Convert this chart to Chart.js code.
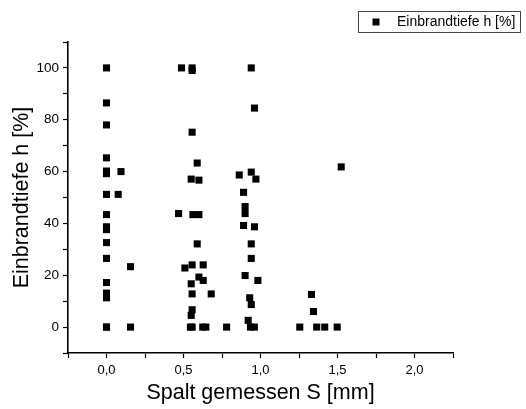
<!DOCTYPE html>
<html>
<head>
<meta charset="utf-8">
<script src="https://cdn.jsdelivr.net/npm/chart.js"></script>
<style>
  body { margin: 0; background: #fff; }
  canvas { display: block; }
</style>
</head>
<body>
<canvas id="myChart" width="526" height="409"></canvas>
<script>
// gap width S [mm] and penetration depth h [%], one entry per weld
const spaltWerte = [
  0, 0, 0, 0, 0, 0, 0, 0, 0, 0, 0, 0, 0, 0, 0, 0, 0,
  0.094, 0.076, 0.156, 0.156,
  0.487, 0.556, 0.556, 0.556, 0.589, 0.55, 0.6, 0.468, 0.561, 0.6, 0.589,
  0.509, 0.556, 0.628, 0.6, 0.628, 0.55, 0.556, 0.68, 0.556, 0.55,
  0.545, 0.556, 0.625, 0.645, 0.78,
  0.94, 0.961, 0.862, 0.94, 0.97, 0.89, 0.9, 0.9, 0.89, 0.961, 0.94, 0.94,
  0.9, 0.983, 0.93, 0.94, 0.92, 0.935, 0.96,
  1.524, 1.331, 1.344, 1.255, 1.365, 1.417, 1.498
];
const einbrandWerte = [
  100, 86.5, 78, 65.3, 60.2, 59.2, 51.2, 43.4, 38.7, 37.6, 32.6, 26.5, 17.2, 13.1, 11.3, 0, 0,
  60, 51.2, 23.3, 0,
  100, 100, 99, 75.2, 63.3, 57.1, 56.7, 43.8, 43.4, 43.4, 32.1,
  22.8, 24, 24, 19.3, 18, 16.7, 12.8, 12.8, 6.7, 4.5,
  0, 0, 0, 0, 0,
  100, 84.5, 58.7, 59.8, 57.1, 52, 46.5, 43.8, 39.2, 38.7, 32.1, 26.5,
  19.9, 18, 11.3, 8.7, 2.6, 0, 0,
  61.8, 12.6, 6.0, 0, 0, 0, 0
];
const xTickLabels = ['0,0', '0,5', '1,0', '1,5', '2,0'];
const yTickLabels = ['0', '20', '40', '60', '80', '100'];

const FONT = "'Liberation Sans', Arial, sans-serif";

// legend box in the top right corner
const legendBox = {
  id: 'legendBox',
  afterDraw(chart) {
    const ctx = chart.ctx;
    const ds = chart.data.datasets[0];
    ctx.save();
    ctx.strokeStyle = '#444';
    ctx.lineWidth = 1;
    ctx.strokeRect(358.5, 11.5, 162, 21);
    ctx.fillStyle = ds.backgroundColor;
    ctx.fillRect(372.5, 18.5, 7, 7);
    ctx.fillStyle = '#000';
    ctx.font = '14px ' + FONT;
    ctx.textBaseline = 'middle';
    ctx.fillText(ds.label, 397, 22);
    ctx.restore();
  }
};

function mainEvent() {
  const target = document.querySelector('#myChart');
  const points = spaltWerte.map((x, i) => ({ x: x, y: einbrandWerte[i] }));

  new Chart(target, {
    type: 'scatter',
    data: {
      datasets: [{
        label: 'Einbrandtiefe h [%]',
        data: points,
        pointStyle: 'rect',
        pointRadius: 5,
        borderWidth: 0,
        backgroundColor: '#000',
        borderColor: '#000'
      }]
    },
    options: {
      responsive: false,
      animation: false,
      devicePixelRatio: 1,
      layout: { padding: { top: 42, right: 73, left: 0, bottom: 0 } },
      plugins: { legend: { display: false }, tooltip: { enabled: false } },
      scales: {
        x: {
          type: 'linear',
          min: -0.25,
          max: 2.25,
          afterFit: (scale) => { scale.height = 56; },
          ticks: {
            stepSize: 0.25,
            autoSkip: false,
            maxRotation: 0,
            color: '#000',
            padding: 5,
            font: { family: FONT, size: 13 },
            callback: (v) => {
              const i = Math.round(v * 2);
              return Math.abs(v * 2 - i) < 1e-6 && i >= 0 ? xTickLabels[i] : '';
            }
          },
          grid: { drawOnChartArea: false, tickLength: 5, tickColor: '#000', tickWidth: 1.2 },
          border: { display: true, color: '#000', width: 1.6 },
          title: {
            display: true,
            text: 'Spalt gemessen S [mm]',
            color: '#000',
            font: { family: FONT, size: 21.5 },
            padding: { top: 0, bottom: 3 }
          }
        },
        y: {
          min: -10,
          max: 110,
          afterFit: (scale) => { scale.width = 68; },
          ticks: {
            stepSize: 10,
            autoSkip: false,
            color: '#000',
            padding: 4,
            font: { family: FONT, size: 13.5 },
            callback: (v) => (v % 20 === 0 && v >= 0 && v <= 100 ? yTickLabels[v / 20] : '')
          },
          grid: { drawOnChartArea: false, tickLength: 5, tickColor: '#000', tickWidth: 1.2 },
          border: { display: true, color: '#000', width: 1.6 },
          title: {
            display: true,
            text: 'Einbrandtiefe h [%]',
            color: '#000',
            font: { family: FONT, size: 21.5 },
            padding: { top: 9, bottom: 0 }
          }
        }
      }
    },
    plugins: [legendBox]
  });
}

document.addEventListener('DOMContentLoaded', () => mainEvent());
</script>
</body>
</html>
